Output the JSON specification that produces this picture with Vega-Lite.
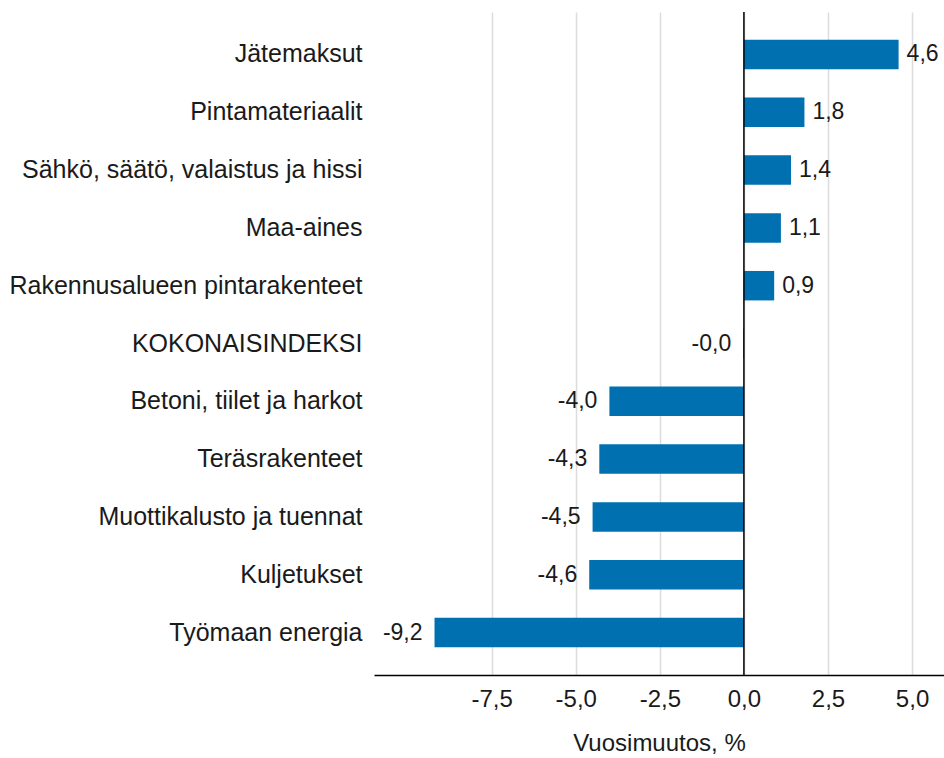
{
  "$schema": "https://vega.github.io/schema/vega-lite/v6.json",
  "autosize": "none",
  "width": 570,
  "height": 663,
  "padding": {"left": 374, "top": 12, "right": 0, "bottom": 83},
  "background": "white",
  "config": {
    "locale": {"number": {"decimal": ",", "thousands": " ", "grouping": [3], "currency": ["", " €"], "minus": "-"}},
    "font": "Liberation Sans",
    "view": {"stroke": null},
    "axis": {"labelFont": "Liberation Sans", "titleFont": "Liberation Sans", "labelColor": "#1a1a1a", "titleColor": "#1a1a1a", "labelFontSize": 24, "titleFontSize": 24, "titleFontWeight": "normal"}
  },
  "datasets": {
    "bars": [
      {"category": "Jätemaksut", "value": 4.6, "label": "4,6"},
      {"category": "Pintamateriaalit", "value": 1.8, "label": "1,8"},
      {"category": "Sähkö, säätö, valaistus ja hissi", "value": 1.4, "label": "1,4"},
      {"category": "Maa-aines", "value": 1.1, "label": "1,1"},
      {"category": "Rakennusalueen pintarakenteet", "value": 0.9, "label": "0,9"},
      {"category": "KOKONAISINDEKSI", "value": -0.02, "label": "-0,0"},
      {"category": "Betoni, tiilet ja harkot", "value": -4.0, "label": "-4,0"},
      {"category": "Teräsrakenteet", "value": -4.3, "label": "-4,3"},
      {"category": "Muottikalusto ja tuennat", "value": -4.5, "label": "-4,5"},
      {"category": "Kuljetukset", "value": -4.6, "label": "-4,6"},
      {"category": "Työmaan energia", "value": -9.2, "label": "-9,2"}
    ],
    "zeroline": [{"zero": 0}]
  },
  "layer": [
    {
      "data": {"name": "bars"},
      "mark": {"type": "bar", "color": "#0070b0"},
      "encoding": {
        "y": {
          "field": "category", "type": "nominal", "sort": null,
          "scale": {"paddingInner": 0.49, "paddingOuter": 0.48},
          "axis": {"title": null, "domain": false, "ticks": false, "labelPadding": 12, "grid": false, "labelLimit": 500, "labelFontSize": 25}
        },
        "x": {
          "field": "value", "type": "quantitative",
          "scale": {"domain": [-11, 5.95], "nice": false, "zero": false},
          "axis": {
            "title": "Vuosimuutos, %", "titlePadding": 20,
            "values": [-7.5, -5, -2.5, 0, 2.5, 5], "format": ".1f",
            "ticks": false, "labelPadding": 12,
            "domain": true, "domainColor": "#000000", "domainWidth": 1.5,
            "grid": true, "gridColor": "#dcdcdc", "gridWidth": 1.5
          }
        }
      }
    },
    {
      "data": {"name": "bars"},
      "transform": [{"filter": "datum.value >= 0"}],
      "mark": {"type": "text", "align": "left", "baseline": "middle", "dx": 8, "fontSize": 23, "color": "#1a1a1a"},
      "encoding": {
        "y": {"field": "category", "type": "nominal", "sort": null},
        "x": {"field": "value", "type": "quantitative"},
        "text": {"field": "label"}
      }
    },
    {
      "data": {"name": "bars"},
      "transform": [{"filter": "datum.value < 0"}],
      "mark": {"type": "text", "align": "right", "baseline": "middle", "dx": -12, "fontSize": 23, "color": "#1a1a1a"},
      "encoding": {
        "y": {"field": "category", "type": "nominal", "sort": null},
        "x": {"field": "value", "type": "quantitative"},
        "text": {"field": "label"}
      }
    },
    {
      "data": {"name": "zeroline"},
      "mark": {"type": "rule", "color": "#000000", "strokeWidth": 1.5},
      "encoding": {"x": {"field": "zero", "type": "quantitative"}}
    }
  ]
}
